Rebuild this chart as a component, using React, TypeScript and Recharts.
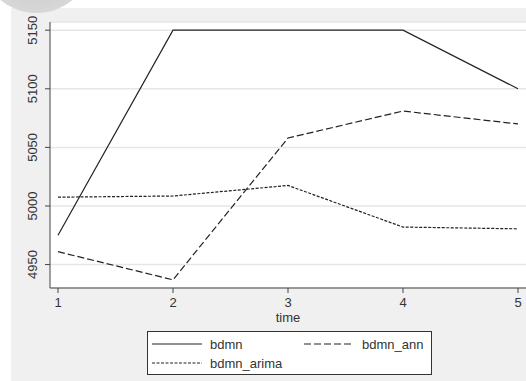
import { LineChart, Line, XAxis, YAxis, CartesianGrid, Label } from 'recharts';

const times = [1, 2, 3, 4, 5];
const bdmn = [4975, 5150, 5150, 5150, 5100];
const bdmnAnn = [4961, 4937, 5058, 5081, 5070];
const bdmnArima = [5007.5, 5008.5, 5017.5, 4982, 4980.5];
const yTicks = [4950, 5000, 5050, 5100, 5150];

const data = times.map((t, i) => ({
    time: t,
    bdmn: bdmn[i],
    bdmn_ann: bdmnAnn[i],
    bdmn_arima: bdmnArima[i],
}));

const FONT = '"Liberation Sans", Arial, sans-serif';
const INK = '#222';

const YTick = ({ x, y, payload }: any) => (
    <text
        transform={`translate(${x - 4},${y}) rotate(-90)`}
        textAnchor="middle"
        fontFamily={FONT}
        fontSize={13}
        fill="#333"
    >
        {payload.value}
    </text>
);

const XTick = ({ x, y, payload }: any) => (
    <text x={x} y={y} dy="0.7em" textAnchor="middle" fontFamily={FONT} fontSize={13} fill="#333">
        {payload.value}
    </text>
);

function LegendBox() {
    const row = (x: number, y: number, dash: string | undefined, name: string) => (
        <g key={name}>
            <line x1={x} x2={x + 50} y1={y} y2={y} stroke={INK} strokeWidth={1.2} strokeDasharray={dash} />
            <text x={x + 58} y={y + 4.5} fontFamily={FONT} fontSize={13} fill="#333">{name}</text>
        </g>
    );
    return (
        <svg
            width={285}
            height={44}
            style={{ position: 'absolute', left: 146.5, top: 330.5, overflow: 'visible' }}
        >
            <rect x={0.5} y={0.5} width={284} height={43} fill="#fff" stroke="#333" strokeWidth={1} />
            {row(5, 13, undefined, 'bdmn')}
            {row(157, 13, '7 3', 'bdmn_ann')}
            {row(5, 32, '3 1.5', 'bdmn_arima')}
        </svg>
    );
}

export default function App() {
    return (
        <div style={{ position: 'absolute', left: 0, top: 0, width: 526, height: 381, background: '#fff', overflow: 'hidden' }}>
            <div style={{ position: 'absolute', left: 11, top: 8, right: 0, bottom: 0, background: '#f0f0f0' }} />
            <div
                style={{
                    position: 'absolute',
                    left: -20,
                    top: -100,
                    width: 113,
                    height: 113,
                    borderRadius: '50%',
                    background: 'radial-gradient(circle, #d2d2d2 55%, #e2e2e2 100%)',
                }}
            />
            <div style={{ position: 'absolute', left: 0, top: 0 }}>
                <LineChart width={526} height={381} data={data} margin={{ top: 22, right: 0, bottom: 57, left: 0 }}>
                    <CartesianGrid vertical={false} stroke="#e6e6e6" strokeWidth={1.5} fill="#fff" />
                    <XAxis
                        dataKey="time"
                        type="number"
                        domain={[1, 5]}
                        ticks={times}
                        padding={{ left: 8, right: 8 }}
                        height={36}
                        tickSize={5}
                        tickMargin={5}
                        stroke="#444"
                        tick={<XTick />}
                    >
                        <Label value="time" position="insideBottom" offset={2} fontFamily={FONT} fontSize={13} fill="#333" />
                    </XAxis>
                    <YAxis
                        type="number"
                        domain={[4930, 5157]}
                        ticks={yTicks}
                        width={50}
                        tickSize={5}
                        tickMargin={4}
                        stroke="#444"
                        tick={<YTick />}
                        allowDataOverflow
                    />
                    <Line dataKey="bdmn" stroke={INK} strokeWidth={1.2} dot={false} isAnimationActive={false} />
                    <Line dataKey="bdmn_ann" stroke={INK} strokeWidth={1.2} strokeDasharray="7 3" dot={false} isAnimationActive={false} />
                    <Line dataKey="bdmn_arima" stroke={INK} strokeWidth={1.2} strokeDasharray="3 1.5" dot={false} isAnimationActive={false} />
                </LineChart>
            </div>
            <LegendBox />
        </div>
    );
}
